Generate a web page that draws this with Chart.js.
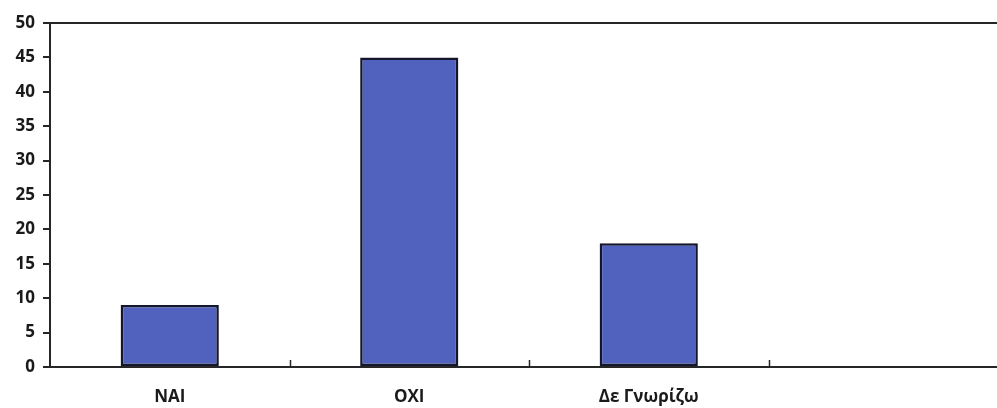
<!DOCTYPE html>
<html>
<head>
<meta charset="utf-8">
<script src="https://cdn.jsdelivr.net/npm/chart.js@4/dist/chart.umd.min.js"></script>
<style>
  html, body { margin: 0; padding: 0; background: #fff; overflow: hidden; }
  #wrap { width: 1010px; height: 408px; }
</style>
</head>
<body>
<div id="wrap"><canvas id="c" width="1010" height="408"></canvas></div>
<script>
// Answers and counts
const categories = ['ΝΑΙ', 'ΟΧΙ', 'Δε Γνωρίζω', ''];
const counts = [9, 45, 18, null];
const yTicks = [0, 5, 10, 15, 20, 25, 30, 35, 40, 45, 50];

const ink = '#262626';
const labelFont = { family: "'Open Sans', 'Noto Sans', sans-serif", size: 17, weight: 'bold' };

// Short tick marks pointing up into the plot at category boundaries
const innerTicks = {
  id: 'innerTicks',
  afterDatasetsDraw(chart) {
    const x = chart.scales.x;
    const bottom = chart.chartArea.bottom;
    const ctx = chart.ctx;
    ctx.save();
    ctx.strokeStyle = ink;
    ctx.lineWidth = 1.5;
    for (let i = 1; i <= categories.length; i++) {
      const px = Math.round(x.getPixelForValue(i - 0.5)) + 0.5;
      ctx.beginPath();
      ctx.moveTo(px, bottom);
      ctx.lineTo(px, bottom - 7);
      ctx.stroke();
    }
    ctx.restore();
  }
};

new Chart(document.getElementById('c'), {
  type: 'bar',
  data: {
    labels: categories,
    datasets: [{
      data: counts,
      backgroundColor: '#5062be',
      borderColor: '#14162c',
      borderWidth: 2.5,
      borderSkipped: false,
      barPercentage: 0.41,
      categoryPercentage: 1.0
    }]
  },
  options: {
    responsive: false,
    animation: false,
    layout: { padding: { top: 23, left: 6, right: 2, bottom: 0 } },
    plugins: { legend: { display: false }, tooltip: { enabled: false } },
    scales: {
      x: {
        offset: true,
        grid: { display: false },
        border: { display: true, color: ink, width: 2 },
        ticks: { color: '#1a1a1a', font: labelFont, padding: 12, maxRotation: 0 },
        afterFit(scale) { scale.height = 41; }
      },
      y: {
        min: 0,
        max: 50,
        afterBuildTicks(scale) { scale.ticks = yTicks.map(v => ({ value: v })); },
        grid: {
          drawOnChartArea: true,
          color: (c) => (c.tick && c.tick.value === 50 ? ink : 'transparent'),
          tickColor: ink,
          tickLength: 7,
          lineWidth: 2
        },
        border: { display: true, color: ink, width: 2 },
        ticks: { color: '#1a1a1a', font: { ...labelFont, size: 17 }, padding: 8 },
        afterFit(scale) { scale.width = 44; }
      }
    }
  },
  plugins: [innerTicks]
});
</script>
</body>
</html>
